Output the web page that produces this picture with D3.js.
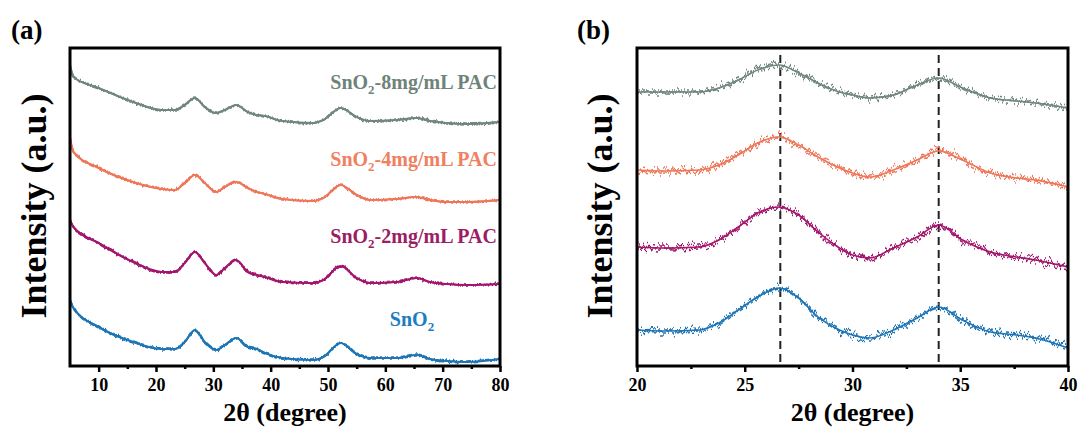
<!DOCTYPE html>
<html>
<head>
<meta charset="utf-8">
<script src="https://d3js.org/d3.v7.min.js"></script>
<style>
  body { margin: 0; background: #fff; }
  svg text { font-family: "Liberation Serif", "Times New Roman", serif; font-weight: bold; }
</style>
</head>
<body>
<svg id="svgXRD" width="1085" height="430"></svg>
<script>
// panel (a): 2theta 5-80 (a.u., stacked)
var anguloA = [5, 5.6, 10, 16, 21, 23.3, 25, 26.8, 28.5, 30.5, 32, 34, 36, 37.6, 39, 42, 47.4, 49.2, 52.2, 55, 57.3, 62, 65.5, 67.8, 70.7, 74.2, 80];
var pac8A   = [301, 289, 278, 264, 256, 256, 261, 268, 259, 253, 256, 261, 254, 251, 250, 245, 243, 246, 258, 249, 245, 246, 248, 245, 243, 242, 244];
var pac4A   = [228, 214, 198, 184, 177, 176, 183, 191, 183, 174, 179, 184, 178, 174, 172, 167, 165, 168, 181, 171, 166, 167, 169, 166, 164, 164, 166];
var pac2A   = [146, 139, 123, 104, 94, 94, 103, 114, 103, 91, 98, 106, 94, 91, 89, 84, 83, 86, 100, 88, 83, 84, 88, 84, 82, 81, 82];
var sno2A   = [66, 58, 39, 24, 17, 17, 24, 36, 24, 16, 21, 28, 19, 17, 13, 8, 6, 9, 23, 12, 8, 8, 11, 7, 5, 4, 7];

// panel (b): zoom 20-40
var anguloB = [20, 21.3, 22.9, 23.8, 24.7, 25.6, 26.6, 27.5, 28.4, 29.4, 30, 30.8, 31.9, 33, 34, 35.1, 36.4, 37.6, 38.5, 40];
var pac8B   = [274, 274, 274, 278, 286, 296, 301, 293, 283, 274, 271, 268, 271, 281, 288, 278, 268, 265, 263, 258];
var pac4B   = [196, 195, 196, 201, 211, 223, 229, 221, 209, 198, 193, 189, 196, 206, 215, 206, 193, 188, 186, 179];
var pac2B   = [119, 118, 119, 126, 139, 153, 159, 151, 134, 118, 111, 108, 118, 129, 141, 126, 114, 109, 106, 99];
var sno2B   = [36, 35, 36, 43, 56, 69, 78, 68, 49, 36, 31, 28, 36, 48, 59, 46, 34, 31, 28, 18];

var picos = [26.65, 34.0];

var muestras = ["SnO2-8mg/mL PAC", "SnO2-4mg/mL PAC", "SnO2-2mg/mL PAC", "SnO2"];
var colores = ["#71877d", "#ef7659", "#a3166d", "#1f75b5"];
var coloresTexto = ["#6f8379", "#f0805f", "#9b1d63", "#1d7dc2"];

var svg = d3.select("#svgXRD");

// noise texture for the traces (style only)
var defs = svg.append("defs");
function filtroRuido(id, x0, w, frecuencia, escala, seed) {
    var f = defs.append("filter").attr("id", id)
        .attr("filterUnits", "userSpaceOnUse")
        .attr("x", x0).attr("y", 30).attr("width", w).attr("height", 360);
    f.append("feTurbulence").attr("type", "fractalNoise")
        .attr("baseFrequency", frecuencia + " 0.01").attr("numOctaves", 2).attr("seed", seed).attr("result", "t");
    f.append("feColorMatrix").attr("in", "t").attr("type", "matrix")
        .attr("values", "0 0 0 0 0.5  0 1 0 0 0  0 0 0 0 0  0 0 0 0 1").attr("result", "m");
    f.append("feDisplacementMap").attr("in", "SourceGraphic").attr("in2", "m")
        .attr("scale", escala).attr("xChannelSelector", "R").attr("yChannelSelector", "G");
}
filtroRuido("ruidoA", 60, 450, 0.45, 6, 4);
filtroRuido("ruidoA2", 60, 450, 0.6, 5, 9);
filtroRuido("ruidoB", 627, 450, 0.35, 19, 7);
filtroRuido("ruidoB2", 627, 450, 0.5, 15, 2);

function dibujarPanel(cfg) {
    var x = d3.scaleLinear().domain(cfg.dominio).range(cfg.rango),
        y = d3.scaleLinear().domain([0, 320]).range([366, 46]);

    var g = svg.append("g");

    var linea = d3.line()
        .x(function(d) { return x(d[0]); })
        .y(function(d) { return y(d[1]); })
        .curve(d3.curveMonotoneX);

    // dashed reference lines
    if (cfg.picos) {
        g.selectAll(".pico").data(cfg.picos).enter().append("line")
         .attr("x1", function(d) { return x(d); })
         .attr("x2", function(d) { return x(d); })
         .attr("y1", y(311)).attr("y2", y(0))
         .attr("stroke", "#222").attr("stroke-width", 2)
         .attr("stroke-dasharray", "8,5");
    }

    cfg.series.forEach(function(serie, i) {
        var datos = cfg.angulos.map(function(a, k) { return [a, serie[k]]; });
        g.append("path").datum(datos)
         .attr("d", linea).attr("fill", "none")
         .attr("stroke", colores[i]).attr("stroke-width", cfg.grosor);
        cfg.filtros.forEach(function(fid) {
            g.append("path").datum(datos)
             .attr("d", linea).attr("fill", "none")
             .attr("stroke", colores[i]).attr("stroke-width", cfg.grosorRuido)
             .attr("filter", "url(#" + fid + ")");
        });
    });

    // frame
    g.append("rect")
     .attr("x", cfg.rango[0]).attr("y", y(320) + 2)
     .attr("width", cfg.rango[1] - cfg.rango[0])
     .attr("height", y(0) - y(320) - 2)
     .attr("fill", "none").attr("stroke", "#000").attr("stroke-width", 3);

    var ejeX = g.append("g").attr("transform", "translate(0," + y(0) + ")")
        .call(d3.axisBottom(x).tickValues(cfg.mayores).tickSize(6).tickPadding(6)
              .tickFormat(function(d) { return d; }));
    ejeX.select(".domain").remove();
    ejeX.selectAll("line").attr("stroke-width", 2.5);
    ejeX.selectAll("text").attr("font-size", "18px").attr("fill", "#000")
        .attr("font-family", "'Liberation Serif', 'Times New Roman', serif");

    var menores = g.append("g").attr("transform", "translate(0," + y(0) + ")")
        .call(d3.axisBottom(x).tickValues(cfg.menores).tickSize(3).tickFormat(""));
    menores.select(".domain").remove();
    menores.selectAll("line").attr("stroke-width", 2.5);

    // axis titles
    svg.append("text")
       .attr("x", (cfg.rango[0] + cfg.rango[1]) / 2).attr("y", 421)
       .attr("text-anchor", "middle").attr("font-size", "26px")
       .text("2θ (degree)");

    svg.append("text")
       .attr("transform", "translate(" + cfg.tituloY + ",206) rotate(-90)")
       .attr("text-anchor", "middle").attr("font-size", "36px")
       .text("Intensity (a.u.)");

    svg.append("text")
       .attr("x", cfg.letraX).attr("y", 39)
       .attr("font-size", "27px")
       .text(cfg.letra);

    return { x: x, y: y };
}

var panelA = dibujarPanel({
    dominio: [5, 80], rango: [70, 500], angulos: anguloA,
    series: [pac8A, pac4A, pac2A, sno2A], grosor: 2.2, grosorRuido: 1.6,
    filtros: ["ruidoA", "ruidoA2"],
    mayores: [10, 20, 30, 40, 50, 60, 70, 80], menores: [15, 25, 35, 45, 55, 65, 75],
    tituloY: 46, letra: "(a)", letraX: 11
});

var panelB = dibujarPanel({
    dominio: [20, 40], rango: [637, 1068], angulos: anguloB,
    series: [pac8B, pac4B, pac2B, sno2B], grosor: 1.6, grosorRuido: 1.4,
    filtros: ["ruidoB", "ruidoB2"],
    mayores: [20, 25, 30, 35, 40], menores: [22.5, 27.5, 32.5, 37.5],
    picos: picos,
    tituloY: 612, letra: "(b)", letraX: 577
});

// sample labels in panel (a)
var etiquetas = [
    { base: "SnO", resto: "-8mg/mL PAC", x: 497, y: 89, ancla: "end" },
    { base: "SnO", resto: "-4mg/mL PAC", x: 497, y: 166, ancla: "end" },
    { base: "SnO", resto: "-2mg/mL PAC", x: 497, y: 243, ancla: "end" },
    { base: "SnO", resto: "", x: 412, y: 326, ancla: "middle" }
];
etiquetas.forEach(function(e, i) {
    var t = svg.append("text")
       .attr("x", e.x).attr("y", e.y)
       .attr("text-anchor", e.ancla)
       .attr("font-size", "20px")
       .attr("fill", coloresTexto[i]);
    t.append("tspan").text(e.base);
    t.append("tspan").attr("font-size", "13px").attr("dy", 5).text("2");
    t.append("tspan").attr("dy", -5).text(e.resto);
});
</script>
</body>
</html>
